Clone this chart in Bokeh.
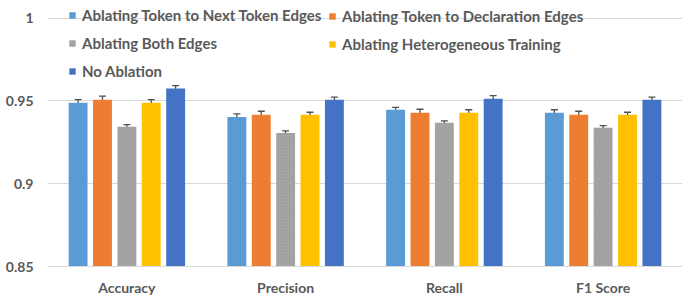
from bokeh.plotting import figure
from bokeh.models import ColumnDataSource, Legend, LegendItem, Whisker, FixedTicker, FactorRange, TeeHead
from bokeh.transform import dodge
from bokeh.embed import file_html
from bokeh.resources import INLINE

metrics = ["Accuracy", "Precision", "Recall", "F1 Score"]
series_names = [
    "Ablating Token to Next Token Edges",
    "Ablating Token to Declaration Edges",
    "Ablating Both Edges",
    "Ablating Heterogeneous Training",
    "No Ablation",
]
next_token = [0.949, 0.9404, 0.9447, 0.9429]
declaration = [0.9508, 0.9417, 0.9429, 0.9417]
both_edges = [0.9344, 0.9307, 0.9368, 0.9338]
heterogeneous = [0.949, 0.9417, 0.9429, 0.9417]
no_ablation = [0.9575, 0.9508, 0.9514, 0.9508]

next_token_err = [0.0018, 0.0018, 0.0015, 0.0018]
declaration_err = [0.0022, 0.0021, 0.0021, 0.0021]
both_edges_err = [0.0013, 0.0012, 0.0012, 0.0013]
heterogeneous_err = [0.0018, 0.0015, 0.0018, 0.0015]
no_ablation_err = [0.0018, 0.0015, 0.0018, 0.0015]

yticks = [0.85, 0.9, 0.95, 1.0]
ytick_labels = ["0.85", "0.9", "0.95", "1"]

colors = ["#5B9BD5", "#ED7D31", "#A5A5A5", "#FFC000", "#4472C4"]
values = [next_token, declaration, both_edges, heterogeneous, no_ablation]
errors = [next_token_err, declaration_err, both_edges_err, heterogeneous_err, no_ablation_err]

FONT = "Lato"
TXT = "#595959"

# range end slightly above 1 so the legend's top row (which sits on the 1.0 line) is not clipped
p = figure(
    x_range=FactorRange(*metrics, range_padding=0, factor_padding=0),
    y_range=(0.85, 1.0077),
    width=682, height=298,
    output_backend="svg", toolbar_location=None,
    min_border_left=47, min_border_right=0, min_border_top=5, min_border_bottom=32,
)
p.outline_line_color = None
p.background_fill_color = "white"
p.border_fill_color = "white"

p.xgrid.grid_line_color = None
p.ygrid.grid_line_color = "#d9d9d9"
p.ygrid.grid_line_width = 1
p.yaxis.ticker = FixedTicker(ticks=yticks)
p.yaxis.major_label_overrides = dict(zip(yticks, ytick_labels))

for ax in (p.xaxis, p.yaxis):
    ax.major_tick_line_color = None
    ax.minor_tick_line_color = None
    ax.major_tick_out = 0
    ax.major_tick_in = 0
    ax.minor_tick_out = 0
    ax.minor_tick_in = 0
    ax.major_label_text_font = FONT
    ax.major_label_text_font_style = "bold"
    ax.major_label_text_color = TXT
    ax.major_label_text_font_size = "14px"
p.yaxis.axis_line_color = None
p.yaxis.major_label_standoff = 14
p.xaxis.axis_line_color = "#d9d9d9"
p.xaxis.major_label_standoff = 12

spacing = 0.1536
bar_w = 0.119
renderers = []
for i, (name, vals, errs, col) in enumerate(zip(series_names, values, errors, colors)):
    off = (i - 2) * spacing
    src = ColumnDataSource(dict(
        x=metrics, top=vals,
        upper=[v + e for v, e in zip(vals, errs)],
        lower=[v - e for v, e in zip(vals, errs)],
    ))
    kw = {}
    if i == 2:
        kw = dict(hatch_pattern=".", hatch_color="#8c8c8c", hatch_scale=3, hatch_alpha=0.6)
    r = p.vbar(x=dodge("x", off, range=p.x_range), top="top", bottom=0.85, width=bar_w,
               source=src, fill_color=col, line_color=None, **kw)
    renderers.append(r)
    w = Whisker(base=dodge("x", off, range=p.x_range), upper="upper", lower="lower", source=src,
                line_color="#505050", line_width=1.3,
                upper_head=TeeHead(size=7, line_color="#505050", line_width=1.3),
                lower_head=TeeHead(size=7, line_color="#505050", line_width=1.3))
    p.add_layout(w)

def make_legend(idx, loc):
    lg = Legend(
        items=[LegendItem(label=series_names[j], renderers=[renderers[j]]) for j in idx],
        location=loc, orientation="vertical",
        background_fill_alpha=0, border_line_color=None,
        glyph_width=8, glyph_height=8, label_standoff=6,
        label_text_font=FONT, label_text_font_style="bold", label_text_color=TXT,
        label_text_font_size="15px", label_height=20, spacing=8,
        padding=0, margin=0,
    )
    p.add_layout(lg, "center")

make_legend([0, 2, 4], (21, 185))
make_legend([1, 3], (281, 212))

open("out.html", "w").write(file_html(p, INLINE))
